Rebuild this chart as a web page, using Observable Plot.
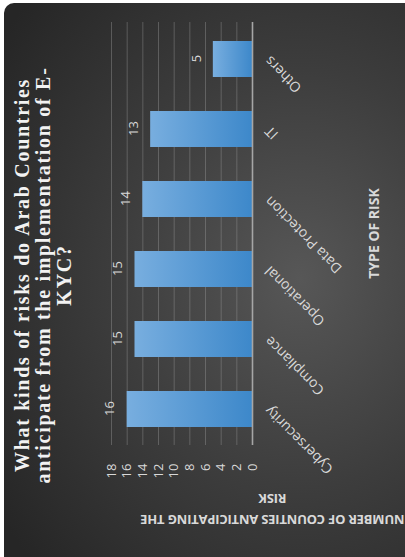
<!DOCTYPE html>
<html>
<head>
<meta charset="utf-8">
<script src="https://cdn.jsdelivr.net/npm/d3@7"></script>
<script src="https://cdn.jsdelivr.net/npm/@observablehq/plot@0.6"></script>
<style>
html, body { margin: 0; padding: 0; background: #ffffff; width: 405px; height: 557px; overflow: hidden; }
#clip { position: absolute; left: 4px; top: 3px; width: 401px; height: 554px; overflow: hidden; border-top-left-radius: 10px; }
#chart {
  position: absolute; left: -4px; top: -3px; width: 557px; height: 405px; overflow: hidden;
  transform-origin: 0 0; transform: translate(0px, 557px) rotate(-90deg);
  background: radial-gradient(ellipse 75% 90% at 50% 74%, #575757 0%, #3d3d3d 50%, #262626 100%);
  font-family: "Open Sans", sans-serif; color: #d9d9d9;
}
#title {
  position: absolute; left: -18px; width: 600px; top: 12px; text-align: center; white-space: nowrap;
  font-family: "Liberation Serif", "DejaVu Serif", serif; font-weight: bold; font-size: 20px;
  line-height: 21px; letter-spacing: 1.7px; color: #f2f2f2;
}
#ytitle {
  position: absolute; left: -161.75px; top: 251.5px; width: 420px; height: 41px; text-align: center;
  white-space: nowrap; font-weight: bold; font-size: 13px; letter-spacing: -0.2px; line-height: 20.5px; color: #d9d9d9;
  transform: rotate(-90deg); transform-origin: 50% 50%;
}
#xtitle {
  position: absolute; left: 223.5px; width: 200px; top: 364px; height: 20px; line-height: 20px;
  text-align: center; font-weight: bold; font-size: 14px; color: #d9d9d9; white-space: nowrap;
}
#plot { position: absolute; left: 0; top: 0; }
</style>
</head>
<body>
<div id="clip">
  <div id="chart">
    <div id="plot"></div>
    <div id="title">What kinds of risks do Arab Countries<br>anticipate from the implementation of E-<br>KYC?</div>
    <div id="ytitle">NUMBER OF COUNTIES ANTICIPATING THE<br>RISK</div>
    <div id="xtitle">TYPE OF RISK</div>
  </div>
</div>
<script>
const riskTypes = ["Cybersecurity", "Compliance", "Operational", "Data Protection", "IT", "Others"];
const countryCounts = [16, 15, 15, 14, 13, 5];
const yTicks = [0, 2, 4, 6, 8, 10, 12, 14, 16, 18];

const data = riskTypes.map((t, i) => ({type: t, count: countryCounts[i]}));

const chart = Plot.plot({
  width: 557,
  height: 405,
  marginLeft: 112,
  marginRight: 22,
  marginTop: 111,
  marginBottom: 153,
  style: {background: "transparent", fontFamily: "Open Sans, sans-serif", fontSize: "13px", color: "#d9d9d9"},
  x: {type: "band", domain: riskTypes, paddingInner: 0.48, paddingOuter: 0.24},
  y: {domain: [0, 18]},
  marks: [
    Plot.gridY(yTicks.filter(d => d > 0), {stroke: "#a0a0a0", strokeOpacity: 0.38, strokeWidth: 1}),
    Plot.barY(data, {x: "type", y: "count", fill: "url(#barGrad)", style: "filter: drop-shadow(-1px 1px 1.5px rgba(0,0,0,0.45))"}),
    Plot.ruleY([0], {stroke: "#a6a6a6", strokeWidth: 1.6}),
    Plot.text(data, {x: "type", y: "count", text: d => String(d.count), dy: -17, fill: "#d9d9d9", fontSize: 13}),
    Plot.axisY({ticks: yTicks, tickSize: 0, tickPadding: 19, label: null, fontSize: 13}),
    Plot.axisX({tickSize: 0, tickPadding: 15, tickRotate: -45, label: null, fontSize: 14})
  ]
});

d3.select(chart).insert("defs", ":first-child").html(
  '<linearGradient id="barGrad" x1="0" y1="0" x2="0" y2="1">' +
  '<stop offset="0" stop-color="#78aedf"/>' +
  '<stop offset="1" stop-color="#3d88ca"/>' +
  '</linearGradient>'
);

document.getElementById("plot").appendChild(chart);
</script>
</body>
</html>
